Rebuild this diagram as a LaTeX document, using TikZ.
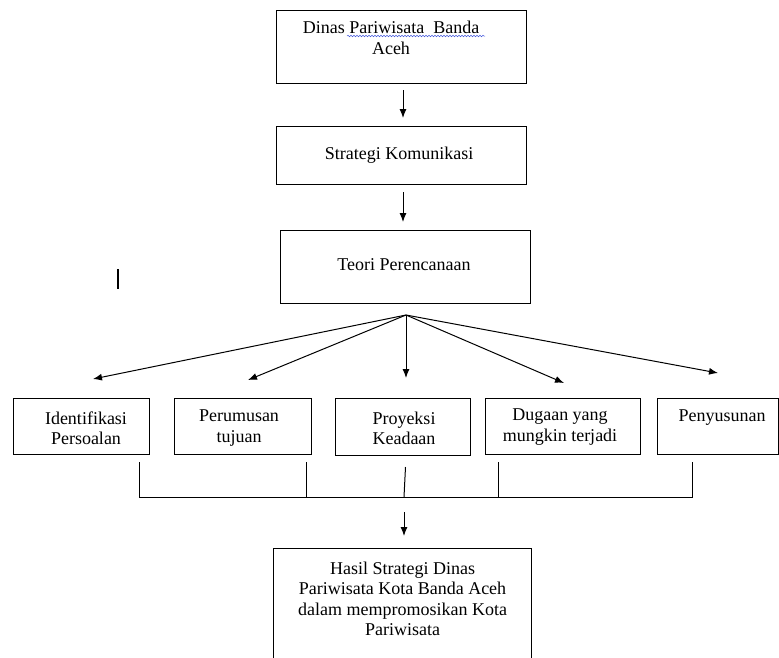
\documentclass[tikz,border=0pt]{standalone}
\usepackage{fontspec}
\setmainfont{Liberation Serif}
\usetikzlibrary{arrows.meta,decorations.pathmorphing}
\definecolor{spell}{RGB}{70,90,220}
\begin{document}
\begin{tikzpicture}[x=1pt,y=-1pt,
  box/.style={draw, line width=1.1pt, inner sep=0pt, anchor=north west},
  txt/.style={align=center, font=\fontsize{18}{20.5}\selectfont, inner sep=0pt},
  arr/.style={line width=1pt, -{Latex[length=9pt,width=7pt]}},
  ln/.style={line width=1pt}]
\clip (0,0) rectangle (779,657);
% boxes
\node[box, minimum width=250pt, minimum height=73pt] (top) at (276,10) {};
\node[box, minimum width=250pt, minimum height=58pt] (strat) at (276,126) {};
\node[box, minimum width=250pt, minimum height=73pt] (teori) at (280,230) {};
\node[box, minimum width=136pt, minimum height=56pt] (b1) at (13,398) {};
\node[box, minimum width=137pt, minimum height=56pt] (b2) at (174,398) {};
\node[box, minimum width=135pt, minimum height=57pt] (b3) at (335,398) {};
\node[box, minimum width=155pt, minimum height=56pt] (b4) at (485,398) {};
\node[box, minimum width=121pt, minimum height=56pt] (b5) at (657,398) {};
\node[box, minimum width=258pt, minimum height=130pt] (res) at (273,548) {};
% texts
\node[txt] (ttop) at (391,38) {Dinas Pariwisata\ \ Banda\\Aceh};
\draw[spell, line width=0.5pt, decorate, decoration={snake, amplitude=0.8pt, segment length=3pt}] (347,36) -- (485,36);
\node[txt] (tstrat) at (399,155) {Strategi Komunikasi};
\node[txt] (tteori) at (404,265) {Teori Perencanaan};
\node[txt] (t1) at (86,428) {Identifikasi\\Persoalan};
\node[txt] (t2) at (239,428) {Perumusan\\tujuan};
\node[txt] (t3) at (404,428.5) {Proyeksi\\Keadaan};
\node[txt] (t4) at (560,427) {Dugaan yang\\mungkin terjadi};
\node[txt] (t5) at (722,418) {Penyusunan};
\node[txt] (tres) at (402.5,599) {Hasil Strategi Dinas\\Pariwisata Kota Banda Aceh\\dalam mempromosikan Kota\\Pariwisata};
% stray mark
\draw[line width=1.4pt] (118,269) -- (118,289);
% arrows
\coordinate (a1s) at (403,90);   \coordinate (a1e) at (403,118);
\coordinate (a2s) at (403,192);  \coordinate (a2e) at (403,222);
\draw[arr] (a1s) -- (a1e);
\draw[arr] (a2s) -- (a2e);
\coordinate (fan) at (406,315);
\coordinate (f1) at (93,379);
\coordinate (f2) at (248,380);
\coordinate (f3) at (406,378);
\coordinate (f4) at (564,383);
\coordinate (f5) at (718,373);
\foreach \e in {f1,f2,f3,f4,f5} \draw[arr] (fan) -- (\e);
% bracket
\coordinate (v1t) at (139,462); \coordinate (v1b) at (139,497);
\coordinate (v2t) at (306,462); \coordinate (v2b) at (306,497);
\coordinate (v3t) at (405.5,467); \coordinate (v3b) at (404,497);
\coordinate (v4t) at (498,462); \coordinate (v4b) at (498,497);
\coordinate (v5t) at (692,462); \coordinate (v5b) at (692,497);
\draw[ln] (v1t) -- (v1b) -- (v5b) -- (v5t);
\draw[ln] (v2t) -- (v2b);
\draw[ln] (v3t) -- (v3b);
\draw[ln] (v4t) -- (v4b);
\coordinate (a3s) at (404,512); \coordinate (a3e) at (404,536);
\draw[arr] (a3s) -- (a3e);
\end{tikzpicture}
\end{document}
